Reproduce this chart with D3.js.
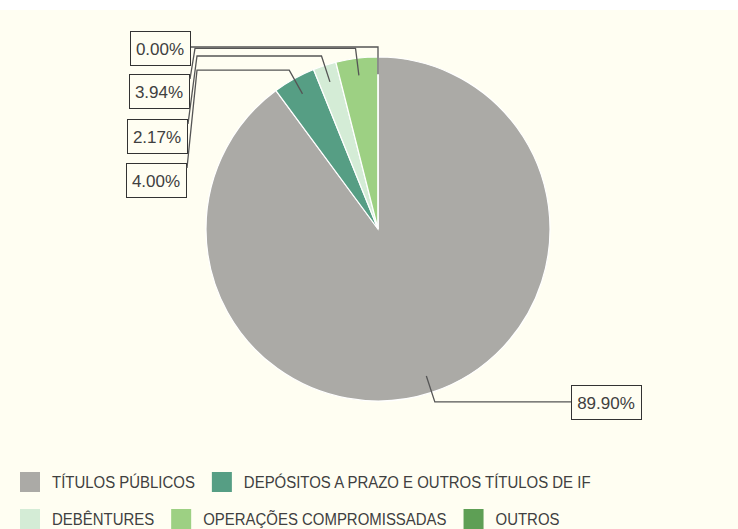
<!DOCTYPE html>
<html>
<head>
<meta charset="utf-8">
<script src="https://cdn.jsdelivr.net/npm/d3@7"></script>
<style>
  body { margin: 0; background: #fff; }
  text { font-family: "Liberation Sans", Arial, sans-serif; fill: #404040; }
</style>
</head>
<body>
<div id="chart"></div>
<script>
// data
const categories = ["TÍTULOS PÚBLICOS", "DEPÓSITOS A PRAZO E OUTROS TÍTULOS DE IF", "DEBÊNTURES", "OPERAÇÕES COMPROMISSADAS", "OUTROS"];
const values = [89.90, 4.00, 2.17, 3.94, 0.00];
const colors = ["#abaaa6", "#569e84", "#d4ecd6", "#9dd083", "#5e9f55"];

const width = 738, height = 529;
const cx = 378, cy = 229, radius = 172;

// label box layout (top-left corner, knee x for leader)
const labelLayout = [
  {x: 571, y: 385, side: "right"},
  {x: 126, y: 163, side: "left", knee: 197},
  {x: 127, y: 119, side: "left", knee: 197},
  {x: 129, y: 74, side: "left", knee: 195},
  {x: 130, y: 31, side: "left", knee: 193}
];

const svg = d3.select("#chart").append("svg")
  .attr("width", width)
  .attr("height", height);

svg.append("rect")
  .attr("x", 0).attr("y", 10)
  .attr("width", width).attr("height", height - 10)
  .attr("fill", "#fffef2");

const pie = d3.pie().sort(null).value(d => d)
const arcs = pie(values);
const arc = d3.arc().innerRadius(0).outerRadius(radius);
const inner = d3.arc().innerRadius(radius * 0.9).outerRadius(radius * 0.9);
const outer = d3.arc().innerRadius(radius + 10).outerRadius(radius + 10);

const g = svg.append("g").attr("transform", `translate(${cx},${cy})`);

g.selectAll("path")
  .data(arcs)
  .join("path")
    .attr("d", arc)
    .attr("fill", (d, i) => colors[i])
    .attr("stroke", "#fff")
    .attr("stroke-width", 1.2);

// labels with leader lines
const labels = svg.append("g");
arcs.forEach((d, i) => {
  const lay = labelLayout[i];
  const mid = (d.startAngle + d.endAngle) / 2;
  const c = inner.centroid({startAngle: mid, endAngle: mid});
  const e = outer.centroid({startAngle: mid, endAngle: mid});
  const p = [cx + c[0], cy + c[1]];
  const q = [cx + e[0], cy + e[1]];

  const txt = labels.append("text")
    .attr("font-size", 17)
    .attr("text-anchor", "middle")
    .attr("dominant-baseline", "central")
    .text(values[i].toFixed(2) + "%");
  const tw = txt.node().getComputedTextLength();
  const bw = Math.round(tw + 12), bh = 34;
  txt.attr("x", lay.x + bw / 2).attr("y", lay.y + bh / 2 + 1);

  labels.insert("rect", "text")
    .attr("x", lay.x + 0.5).attr("y", lay.y + 0.5)
    .attr("width", bw).attr("height", bh)
    .attr("fill", "#fffef2")
    .attr("stroke", "#333")
    .attr("stroke-width", 1);

  let pts;
  if (lay.side === "right") {
    pts = [p, q, [lay.x, q[1]]];
  } else {
    const bx = lay.x + bw + 1;
    const by = Math.max(lay.y + 5, q[1]);
    pts = [p, q, [lay.knee, q[1]], [bx, by]];
  }
  labels.append("path")
    .attr("d", d3.line()(pts))
    .attr("fill", "none")
    .attr("stroke", "#555")
    .attr("stroke-width", 1.3);
});

// legend (text squeezed horizontally to mimic a condensed face)
const squeeze = 0.88;
const legendRows = [[0, 1], [2, 3, 4]];
const legendY = [482, 519];
legendRows.forEach((row, r) => {
  let x = 20;
  row.forEach(i => {
    svg.append("rect")
      .attr("x", x).attr("y", legendY[r] - 10)
      .attr("width", 20).attr("height", 20)
      .attr("fill", colors[i]);
    const t = svg.append("text")
      .attr("transform", `translate(${x + 32},${legendY[r]}) scale(${squeeze},1)`)
      .attr("dominant-baseline", "central")
      .attr("font-size", 17)
      .text(categories[i]);
    x += 32 + t.node().getComputedTextLength() * squeeze + 17;
  });
});
</script>
</body>
</html>
